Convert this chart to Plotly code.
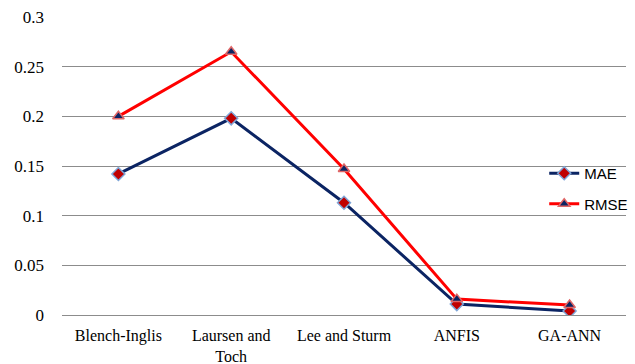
import plotly.graph_objects as go

categories = ["Blench-Inglis", "Laursen and<br>Toch", "Lee and Sturm", "ANFIS", "GA-ANN"]
mae = [0.142, 0.198, 0.113, 0.011, 0.004]
rmse = [0.200, 0.265, 0.147, 0.016, 0.010]
y_ticks = [0, 0.05, 0.1, 0.15, 0.2, 0.25, 0.3]
y_tick_labels = ["0", "0.05", "0.1", "0.15", "0.2", "0.25", "0.3"]

SERIF = "Liberation Serif"

fig = go.Figure()
fig.add_trace(go.Scatter(
    x=categories, y=mae, name="MAE", mode="lines+markers", legendgroup="a",
    line=dict(color="#0b2463", width=3),
    marker=dict(symbol="diamond", size=10, color="#c00000",
                line=dict(color="#7fa6d8", width=1.5)),
))
fig.add_trace(go.Scatter(
    x=categories, y=rmse, name="RMSE", mode="lines+markers", legendgroup="b",
    line=dict(color="#ff0000", width=3),
    marker=dict(symbol="triangle-up", size=10, color="#0b2463",
                line=dict(color="#e06666", width=1.5)),
))

fig.update_layout(
    width=635, height=364,
    margin=dict(l=62, r=9, t=17, b=49, autoexpand=False),
    paper_bgcolor="white", plot_bgcolor="white",
    showlegend=True,
    legend=dict(x=0.855, y=0.53, xanchor="left", yanchor="top",
                font=dict(family="Liberation Sans", size=15, color="#000"),
                traceorder="grouped", tracegroupgap=8,
                bgcolor="rgba(0,0,0,0)", itemwidth=30),
    font=dict(family=SERIF, size=17, color="#000"),
)
fig.update_xaxes(
    type="category", range=[-0.5, 4.5], showgrid=False, showline=False,
    automargin=False,
    ticks="outside", ticklen=6, tickcolor="rgba(0,0,0,0)",
    tickfont=dict(family=SERIF, size=16, color="#000"),
)
fig.update_yaxes(
    range=[0, 0.3], tickvals=y_ticks, ticktext=y_tick_labels,
    automargin=False,
    showgrid=True, gridcolor="#8c8c8c", gridwidth=1.2,
    zeroline=True, zerolinecolor="#8c8c8c", zerolinewidth=1.2,
    showline=False, ticks="", ticklabelstandoff=17,
    tickfont=dict(family=SERIF, size=17, color="#000"),
)
fig.write_html("out.html")
